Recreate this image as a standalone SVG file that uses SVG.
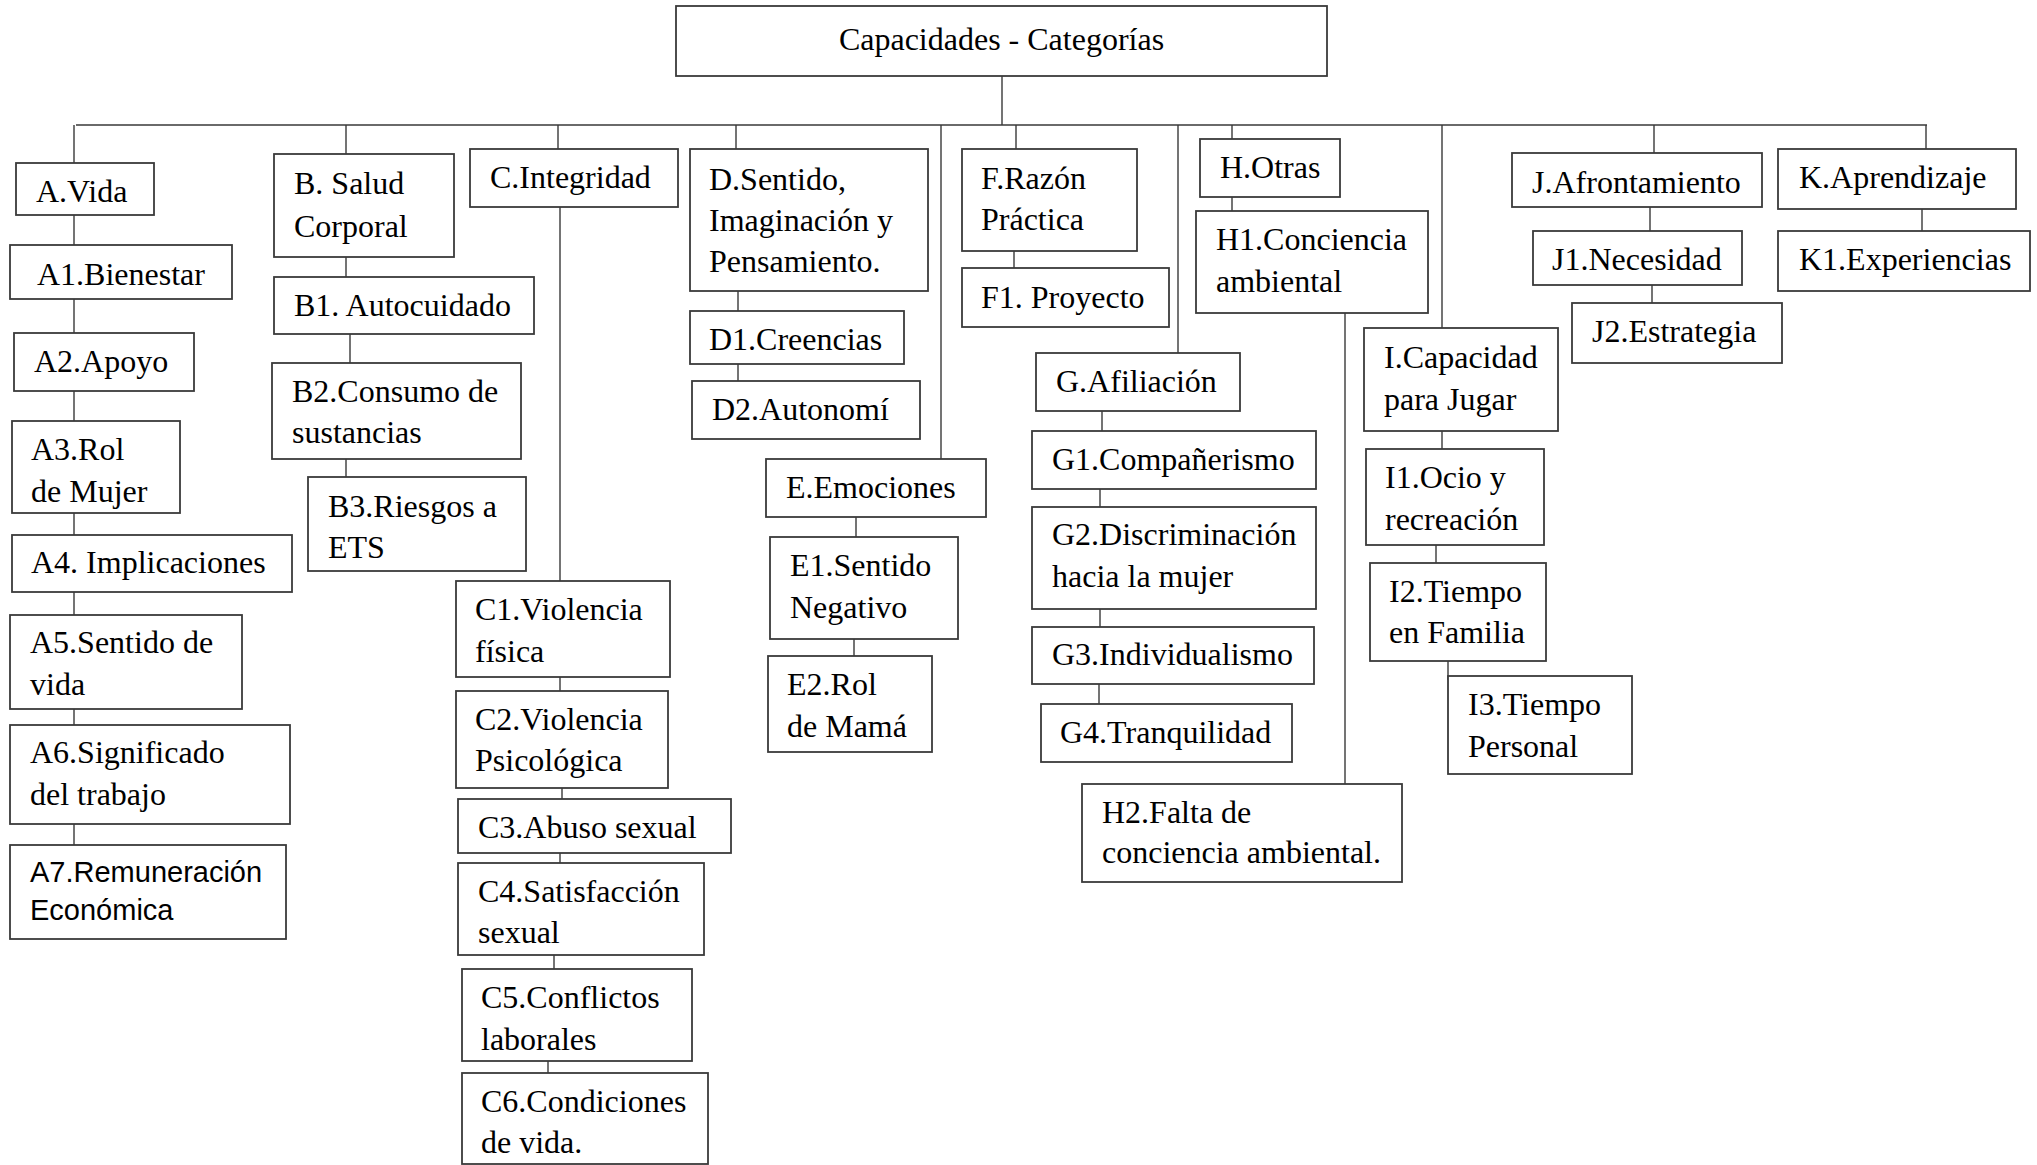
<svg xmlns="http://www.w3.org/2000/svg" width="2037" height="1165" viewBox="0 0 2037 1165">
<style>
.box{fill:#fff;stroke:#3a3a3a;stroke-width:1.8}
.ln{stroke:#3a3a3a;stroke-width:1.4;fill:none}
text{font-family:"Liberation Serif","Times New Roman",serif;font-size:32px;fill:#000}
text.sans{font-family:"Liberation Sans",Arial,sans-serif;font-size:29px}
</style>
<rect width="2037" height="1165" fill="#fff"/>
<g id="connectors">
<path class="ln" d="M1002,76V125M76,125H1927"/>
<path class="ln" d="M74,125V163M74,215V245M74,299V333M74,391V421M74,513V535M74,592V615M74,709V725M74,824V845"/>
<path class="ln" d="M346,125V154M346,257V277M350,334V363M346,459V477"/>
<path class="ln" d="M558,125V149M560,207V581M560,677V691M562,788V799M560,853V863M554,955V969M548,1061V1073"/>
<path class="ln" d="M736,125V149M738,291V311M738,364V381"/>
<path class="ln" d="M941,125V459M856,517V537M854,639V656"/>
<path class="ln" d="M1016,125V149M1014,251V268"/>
<path class="ln" d="M1178,125V353M1102,411V431M1100,489V507M1100,609V627M1099,682V704"/>
<path class="ln" d="M1232,125V139M1232,197V211M1345,313V794"/>
<path class="ln" d="M1442,125V328M1442,431V449M1436,545V563M1448,661V680"/>
<path class="ln" d="M1654,125V153M1650,207V231M1652,285V303"/>
<path class="ln" d="M1926,125V149M1922,203V231"/>
</g>
<g id="root"><rect class="box" x="676" y="6" width="651" height="70"/><text x="1001.5" y="50" text-anchor="middle">Capacidades - Categorías</text></g>

<g id="A"><rect class="box" x="16" y="163" width="138" height="52"/><text x="36" y="202">A.Vida</text></g>
<g id="A1"><rect class="box" x="10" y="245" width="222" height="54"/><text x="37" y="285">A1.Bienestar</text></g>
<g id="A2"><rect class="box" x="14" y="333" width="180" height="58"/><text x="34" y="372">A2.Apoyo</text></g>
<g id="A3"><rect class="box" x="12" y="421" width="168" height="92"/><text x="31" y="460">A3.Rol</text><text x="31" y="502">de Mujer</text></g>
<g id="A4"><rect class="box" x="12" y="535" width="280" height="57"/><text x="31" y="573">A4. Implicaciones</text></g>
<g id="A5"><rect class="box" x="10" y="615" width="232" height="94"/><text x="30" y="653">A5.Sentido de</text><text x="30" y="695">vida</text></g>
<g id="A6"><rect class="box" x="10" y="725" width="280" height="99"/><text x="30" y="763">A6.Significado</text><text x="30" y="805">del trabajo</text></g>
<g id="A7"><rect class="box" x="10" y="845" width="276" height="94"/><text class="sans" x="30" y="882">A7.Remuneración</text><text class="sans" x="30" y="920">Económica</text></g>

<g id="B"><rect class="box" x="274" y="154" width="180" height="103"/><text x="294" y="194">B. Salud</text><text x="294" y="237">Corporal</text></g>
<g id="B1"><rect class="box" x="274" y="277" width="260" height="57"/><text x="294" y="316">B1. Autocuidado</text></g>
<g id="B2"><rect class="box" x="272" y="363" width="249" height="96"/><text x="292" y="402">B2.Consumo de</text><text x="292" y="443">sustancias</text></g>
<g id="B3"><rect class="box" x="308" y="477" width="218" height="94"/><text x="328" y="517">B3.Riesgos a</text><text x="328" y="558">ETS</text></g>

<g id="C"><rect class="box" x="470" y="149" width="208" height="58"/><text x="490" y="188">C.Integridad</text></g>
<g id="C1"><rect class="box" x="456" y="581" width="214" height="96"/><text x="475" y="620">C1.Violencia</text><text x="475" y="662">física</text></g>
<g id="C2"><rect class="box" x="456" y="691" width="212" height="97"/><text x="475" y="730">C2.Violencia</text><text x="475" y="771">Psicológica</text></g>
<g id="C3"><rect class="box" x="458" y="799" width="273" height="54"/><text x="478" y="838">C3.Abuso sexual</text></g>
<g id="C4"><rect class="box" x="458" y="863" width="246" height="92"/><text x="478" y="902">C4.Satisfacción</text><text x="478" y="943">sexual</text></g>
<g id="C5"><rect class="box" x="462" y="969" width="230" height="92"/><text x="481" y="1008">C5.Conflictos</text><text x="481" y="1050">laborales</text></g>
<g id="C6"><rect class="box" x="462" y="1073" width="246" height="91"/><text x="481" y="1112">C6.Condiciones</text><text x="481" y="1153">de vida.</text></g>

<g id="D"><rect class="box" x="690" y="149" width="238" height="142"/><text x="709" y="190">D.Sentido,</text><text x="709" y="231">Imaginación y</text><text x="709" y="272">Pensamiento.</text></g>
<g id="D1"><rect class="box" x="690" y="311" width="214" height="53"/><text x="709" y="350">D1.Creencias</text></g>
<g id="D2"><rect class="box" x="692" y="381" width="228" height="58"/><text x="712" y="420">D2.Autonomí</text></g>

<g id="E"><rect class="box" x="766" y="459" width="220" height="58"/><text x="786" y="498">E.Emociones</text></g>
<g id="E1"><rect class="box" x="770" y="537" width="188" height="102"/><text x="790" y="576">E1.Sentido</text><text x="790" y="618">Negativo</text></g>
<g id="E2"><rect class="box" x="768" y="656" width="164" height="96"/><text x="787" y="695">E2.Rol</text><text x="787" y="737">de Mamá</text></g>

<g id="F"><rect class="box" x="962" y="149" width="175" height="102"/><text x="981" y="189">F.Razón</text><text x="981" y="230">Práctica</text></g>
<g id="F1"><rect class="box" x="962" y="268" width="207" height="59"/><text x="981" y="308">F1. Proyecto</text></g>

<g id="G"><rect class="box" x="1036" y="353" width="204" height="58"/><text x="1056" y="392">G.Afiliación</text></g>
<g id="G1"><rect class="box" x="1032" y="431" width="284" height="58"/><text x="1052" y="470">G1.Compañerismo</text></g>
<g id="G2"><rect class="box" x="1032" y="507" width="284" height="102"/><text x="1052" y="545">G2.Discriminación</text><text x="1052" y="587">hacia la mujer</text></g>
<g id="G3"><rect class="box" x="1032" y="627" width="282" height="57"/><text x="1052" y="665">G3.Individualismo</text></g>
<g id="G4"><rect class="box" x="1041" y="704" width="251" height="58"/><text x="1060" y="743">G4.Tranquilidad</text></g>

<g id="H"><rect class="box" x="1200" y="139" width="140" height="58"/><text x="1220" y="178">H.Otras</text></g>
<g id="H1"><rect class="box" x="1196" y="211" width="232" height="102"/><text x="1216" y="250">H1.Conciencia</text><text x="1216" y="292">ambiental</text></g>
<g id="H2"><rect class="box" x="1082" y="784" width="320" height="98"/><text x="1102" y="823">H2.Falta de</text><text x="1102" y="863">conciencia ambiental.</text></g>

<g id="I"><rect class="box" x="1364" y="328" width="194" height="103"/><text x="1384" y="368">I.Capacidad</text><text x="1384" y="410">para Jugar</text></g>
<g id="I1"><rect class="box" x="1366" y="449" width="178" height="96"/><text x="1385" y="488">I1.Ocio y</text><text x="1385" y="530">recreación</text></g>
<g id="I2"><rect class="box" x="1370" y="563" width="176" height="98"/><text x="1389" y="602">I2.Tiempo</text><text x="1389" y="643">en Familia</text></g>
<g id="I3"><rect class="box" x="1448" y="676" width="184" height="98"/><text x="1468" y="715">I3.Tiempo</text><text x="1468" y="757">Personal</text></g>

<g id="J"><rect class="box" x="1512" y="153" width="250" height="54"/><text x="1532" y="193">J.Afrontamiento</text></g>
<g id="J1"><rect class="box" x="1533" y="231" width="209" height="54"/><text x="1552" y="270">J1.Necesidad</text></g>
<g id="J2"><rect class="box" x="1572" y="303" width="210" height="60"/><text x="1592" y="342">J2.Estrategia</text></g>

<g id="K"><rect class="box" x="1778" y="149" width="238" height="60"/><text x="1799" y="188">K.Aprendizaje</text></g>
<g id="K1"><rect class="box" x="1778" y="231" width="252" height="60"/><text x="1799" y="270">K1.Experiencias</text></g>
</svg>
